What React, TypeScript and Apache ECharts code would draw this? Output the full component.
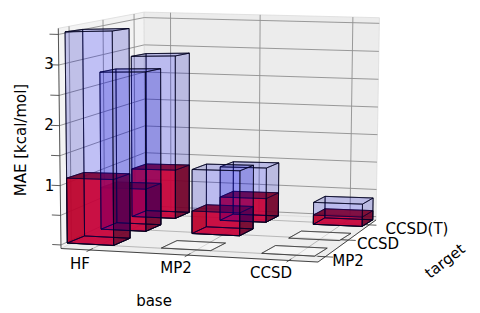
import React, { useEffect, useRef } from "react";
import * as echarts from "echarts";

const baseLabels = ["HF", "MP2", "CCSD"];
const targetLabels = ["MP2", "CCSD", "CCSD(T)"];
const zGrid = [0, 0.5, 1, 1.5, 2, 2.5, 3, 3.5];
const xTickU = [0.115, 0.5, 0.89];
const yTickV = [0.113, 0.492, 0.87];
// [base index, target index, MAE]
const redValues = [
  [0, 2, 0.87], [1, 2, 0.415], [2, 2, 0.16],
  [0, 1, 0.73], [1, 1, 0.385], [2, 1, 0],
  [0, 0, 1.09], [1, 0, 0], [2, 0, 0],
];
const blueValues = [
  [0, 2, 2.9], [1, 2, 0.95], [2, 2, 0.38],
  [0, 1, 2.73], [1, 1, 1.09], [2, 1, 0],
  [0, 0, 3.5], [1, 0, 0], [2, 0, 0],
];

// projective camera for the panes, fitted to the figure
const A = [61, 248.5], B = [318, 262], C = [145, 209], E = [58.3, 28.3];
const P = -0.03, Q = 0.12, R = -0.02;
const ZMIN = -0.06, ZMAX = 3.6;
function proj3(u: number, v: number, w: number): number[] {
  const h = 1 + P * u + Q * v + R * w;
  const f = (k: number) =>
    (A[k] + u * ((1 + P) * B[k] - A[k]) + v * ((1 + Q) * C[k] - A[k]) + w * ((1 + R) * E[k] - A[k])) / h;
  return [f(0), f(1)];
}
const wz = (z: number) => (z - ZMIN) / (ZMAX - ZMIN);

// same camera expressed in bar units
const O = [67.3, 243], AX = [89.1, -2.7], BY = [38.3, -3.5], CZ = [-1, -60.5];
const GX = -0.031, HY = 0.045, RZ = -0.0055, BAR = 0.5;
function pw(x: number, y: number, z: number): number[] {
  const h = 1 + GX * x + HY * y + RZ * z;
  return [0, 1].map((k) => (O[k] + AX[k] * x + BY[k] * y + CZ[k] * z) / h);
}

function boxFaces(x: number, y: number, z: number, colors: any, edge: string) {
  const x1 = x + BAR, y1 = y + BAR, z0 = 0;
  const q = (pts: number[][], fill: string, stroke = edge) => ({
    type: "polygon",
    shape: { points: pts.map((p) => pw(p[0], p[1], p[2])) },
    style: { fill, stroke, lineWidth: 0.8 },
  });
  if (z === 0) return [q([[x, y, 0], [x1, y, 0], [x1, y1, 0], [x, y1, 0]], "rgba(255,255,255,0.25)", "rgba(40,40,40,0.75)")];
  return [
    q([[x, y, z0], [x1, y, z0], [x1, y1, z0], [x, y1, z0]], colors.bottom),
    q([[x, y1, z0], [x1, y1, z0], [x1, y1, z], [x, y1, z]], colors.back),
    q([[x, y, z0], [x, y1, z0], [x, y1, z], [x, y, z]], colors.left),
    q([[x1, y, z0], [x1, y1, z0], [x1, y1, z], [x1, y, z]], colors.right),
    q([[x, y, z0], [x1, y, z0], [x1, y, z], [x, y, z]], colors.front),
    q([[x, y, z], [x1, y, z], [x1, y1, z], [x, y1, z]], colors.top),
  ];
}
const redColors = {
  bottom: "rgba(255,0,0,0.7)", back: "rgba(255,0,0,0.7)", left: "rgba(200,0,0,0.7)",
  right: "rgba(115,0,0,0.7)", front: "rgba(255,0,0,0.7)", top: "rgba(125,0,0,0.7)",
};
const blueColors = {
  bottom: "rgba(0,0,255,0.11)", back: "rgba(0,0,255,0.11)", left: "rgba(0,0,130,0.11)",
  right: "rgba(0,0,130,0.11)", front: "rgba(0,0,255,0.11)", top: "rgba(0,0,160,0.11)",
};

const GRID = "#8f8f8f";
function line(a: number[], b: number[], stroke: string, lineWidth = 0.8) {
  return { type: "line", shape: { x1: a[0], y1: a[1], x2: b[0], y2: b[1] }, style: { stroke, lineWidth } };
}
function panes() {
  const poly = (pts: number[][], fill: string) => ({
    type: "polygon",
    shape: { points: pts.map((p) => proj3(p[0], p[1], p[2])) },
    style: { fill, stroke: "#dcdcdc", lineWidth: 0.8 },
  });
  return [
    poly([[0, 0, 0], [0, 1, 0], [0, 1, 1], [0, 0, 1]], "#f3f3f3"),
    poly([[0, 1, 0], [1, 1, 0], [1, 1, 1], [0, 1, 1]], "#ececec"),
    poly([[0, 0, 0], [1, 0, 0], [1, 1, 0], [0, 1, 0]], "#eeeeee"),
  ];
}
function grids() {
  const out: any[] = [];
  xTickU.forEach((u) => {
    out.push(line(proj3(u, 1, 0), proj3(u, 1, 1), GRID, 0.9));
    out.push(line(proj3(u, 0, 0), proj3(u, 1, 0), "#a8a8a8", 0.8));
    out.push(line(proj3(u, -0.035, 0), proj3(u, 0.035, 0), "#333", 0.8));
  });
  yTickV.forEach((v) => {
    out.push(line(proj3(0, v, 0), proj3(0, v, 1), GRID, 0.9));
    out.push(line(proj3(0, v, 0), proj3(1, v, 0), "#a8a8a8", 0.8));
    out.push(line(proj3(0.97, v, 0), proj3(1.03, v, 0), "#333", 0.8));
  });
  zGrid.forEach((z) => {
    const w = wz(z);
    out.push(line(proj3(0, 0, w), proj3(0, 1, w), GRID, 0.9));
    out.push(line(proj3(0, 1, w), proj3(1, 1, w), GRID, 0.9));
    out.push(line(proj3(-0.035, 0, w), proj3(0, 0, w), "#333", 0.8));
  });
  out.push(line(proj3(0, 0, 0), proj3(1, 0, 0), "#333", 0.9));
  out.push(line(proj3(1, 0, 0), proj3(1, 1, 0), "#333", 0.9));
  out.push(line(proj3(0, 0, 0), proj3(0, 0, 1), "#444", 0.9));
  return out;
}

const font = "DejaVu Sans";
const txt = (text: string, x: number, y: number, rotation = 0, fontSize = 15) => ({
  type: "text", x, y, rotation: (rotation * Math.PI) / 180,
  style: { text, fill: "#000", fontFamily: font, fontSize, textAlign: "center", textVerticalAlign: "middle" },
});

export default function App() {
  const ref = useRef<HTMLDivElement>(null);
  useEffect(() => {
    const chart = echarts.init(ref.current!, undefined, { renderer: "svg" });
    const barSeries = (name: string, data: number[][], colors: any, edge: string) => ({
      type: "custom", name, coordinateSystem: "none", clip: false, data,
      renderItem: (_: any, api: any) => ({
        type: "group",
        children: boxFaces(api.value(0), api.value(1), api.value(2), colors, edge),
      }),
    });
    chart.setOption({
      animation: false,
      backgroundColor: "#fff",
      series: [
        {
          type: "custom", coordinateSystem: "none", data: [[0]], silent: true,
          renderItem: () => ({ type: "group", children: [...panes(), ...grids()] }),
        },
        barSeries("delta", redValues, redColors, "rgba(20,0,20,0.9)"),
        barSeries("total", blueValues, blueColors, "rgba(0,0,30,0.85)"),
      ],
      graphic: [
        txt("3", 49, 64), txt("2", 49, 125), txt("1", 49.5, 186),
        txt(baseLabels[0], 80, 264), txt(baseLabels[1], 176, 268), txt(baseLabels[2], 271, 273),
        txt(targetLabels[0], 348, 261), txt(targetLabels[1], 378, 244), txt(targetLabels[2], 417, 229),
        txt("base", 154, 301), txt("target", 445, 261, 38),
        txt("MAE [kcal/mol]", 20.5, 140, 90),
      ],
    });
    return () => chart.dispose();
  }, []);
  return <div ref={ref} style={{ width: 480, height: 313, position: "fixed", left: 0, top: 0 }} />;
}
